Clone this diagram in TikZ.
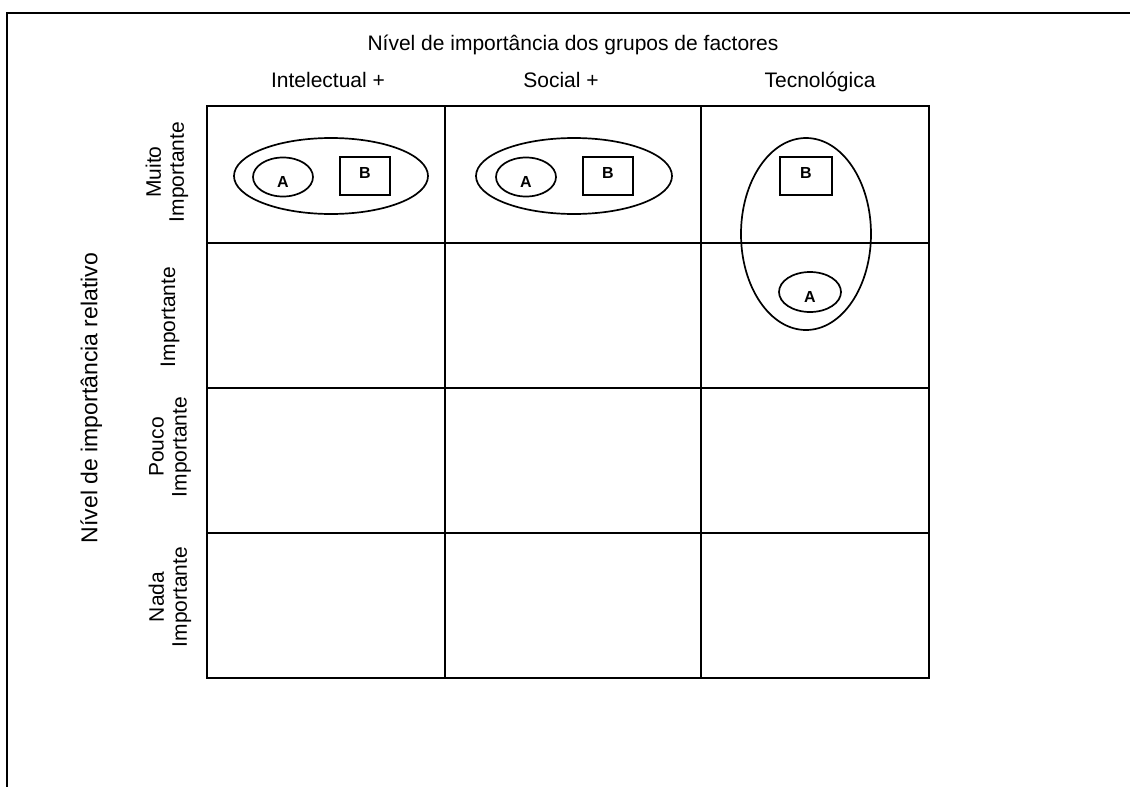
\documentclass[tikz,border=0pt]{standalone}
\usepackage{fontspec}
\setmainfont{Liberation Sans}
\usetikzlibrary{shapes.geometric}
\begin{document}
\begin{tikzpicture}[x=1pt,y=-1pt,
  gridline/.style={line width=1.7pt},
  frameline/.style={line width=2.8pt},
  oval/.style={ellipse, draw, line width=1.7pt, inner sep=0pt},
  bbox/.style={rectangle, draw, line width=1.7pt, inner sep=0pt, minimum width=50pt, minimum height=38pt},
  lbl/.style={font=\fontsize{21}{24}\selectfont, inner sep=0pt, text height=15pt, text depth=4.5pt},
  rowlbl/.style={font=\fontsize{21}{23}\selectfont, rotate=90, align=center, inner sep=0pt},
  letter/.style={font=\fontsize{16}{16}\selectfont\bfseries, inner sep=0pt}]
\useasboundingbox[fill=white] (0,0) rectangle (1130,787);
% outer frame
\draw[frameline] (7,787) -- (7,13) -- (1130,13);
% titles
\node[lbl] (title) at (573,45) {Nível de importância dos grupos de factores};
\node[lbl] (h1) at (328,82) {Intelectual +};
\node[lbl] (h2) at (561,82) {Social +};
\node[lbl] (h3) at (820,82) {Tecnológica};
\node[lbl, rotate=90, font=\fontsize{23}{26}\selectfont] (ylab) at (92,398) {Nível de importância relativo};
% row labels
\node[rowlbl] (r1) at (167,172) {Muito\\Importante};
\node[rowlbl] (r2) at (170,317) {Importante};
\node[rowlbl] (r3) at (170,447) {Pouco\\Importante};
\node[rowlbl] (r4) at (170,597) {Nada\\Importante};
% grid
\draw[gridline] (207,106) rectangle (929,678);
\foreach \yy in {243,388,533} \draw[gridline] (207,\yy) -- (929,\yy);
\foreach \xx in {445,701} \draw[gridline] (\xx,106) -- (\xx,678);
% cell 1
\node[oval, minimum width=194pt, minimum height=76pt] (o1) at (331,176) {};
\node[oval, minimum width=60pt, minimum height=39pt] (a1) at (283,177) {};
\node[bbox] (b1) at (365,176) {};
\node[letter] (ta1) at ([yshift=-5pt]a1.center) {A};
\node[letter] (tb1) at ([yshift=3pt]b1.center) {B};
% cell 2
\node[oval, minimum width=196pt, minimum height=76pt] (o2) at (574,176) {};
\node[oval, minimum width=60pt, minimum height=39pt] (a2) at (526,177) {};
\node[bbox] (b2) at (608,176) {};
\node[letter] (ta2) at ([yshift=-5pt]a2.center) {A};
\node[letter] (tb2) at ([yshift=3pt]b2.center) {B};
% cell 3
\node[oval, minimum width=130pt, minimum height=192pt] (o3) at (806,234) {};
\node[bbox, minimum width=52pt] (b3) at (806,176) {};
\node[oval, minimum width=62pt, minimum height=40pt] (a3) at (810,292) {};
\node[letter] (ta3) at ([yshift=-5pt]a3.center) {A};
\node[letter] (tb3) at ([yshift=3pt]b3.center) {B};
\end{tikzpicture}
\end{document}
